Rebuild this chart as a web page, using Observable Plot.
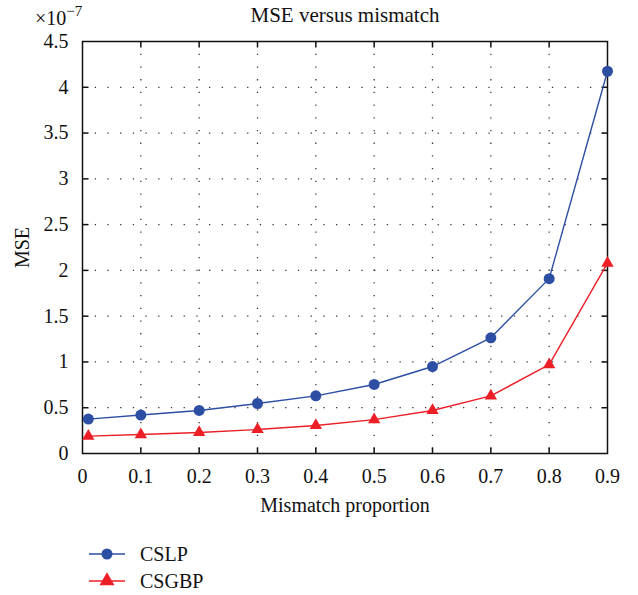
<!DOCTYPE html>
<html><head><meta charset="utf-8">
<script src="https://cdn.jsdelivr.net/npm/d3@7"></script>
<script src="https://cdn.jsdelivr.net/npm/@observablehq/plot@0.6"></script>
<style>
body{margin:0;background:#fff;font-family:"Liberation Serif","DejaVu Serif",serif;color:#111}
#wrap{position:relative;width:638px;height:595px}
.t{position:absolute;white-space:nowrap;font-size:20px;line-height:1}
</style></head><body>
<div id="wrap"></div>
<script>
const mismatch = [0.01, 0.1, 0.2, 0.3, 0.4, 0.5, 0.6, 0.7, 0.8, 0.9];
const cslp = [0.376, 0.42, 0.47, 0.546, 0.63, 0.754, 0.95, 1.264, 1.91, 4.175];
const csgbp = [0.19, 0.207, 0.23, 0.262, 0.306, 0.37, 0.47, 0.63, 0.97, 2.08];
const xTicks = [0, 0.1, 0.2, 0.3, 0.4, 0.5, 0.6, 0.7, 0.8, 0.9];
const yTicks = [0, 0.5, 1, 1.5, 2, 2.5, 3, 3.5, 4, 4.5];
const seriesNames = ["CSLP", "CSGBP"];
const colors = ["#2c4ea3", "#ec1f27"];

const data = [];
mismatch.forEach((m, i) => {
  data.push({x: m, y: cslp[i], s: "CSLP"});
  data.push({x: m, y: csgbp[i], s: "CSGBP"});
});
const A = data.filter(d => d.s === "CSLP");
const B = data.filter(d => d.s === "CSGBP");

const tickSym = (dx, dy) => ({draw(ctx) { ctx.moveTo(0, 0); ctx.lineTo(dx, dy); }});
const inner = xTicks.slice(1, -1);
const innerY = yTicks.slice(1, -1);

const chart = Plot.plot({
  width: 638, height: 525,
  marginLeft: 82, marginRight: 31, marginTop: 41, marginBottom: 72,
  style: {fontFamily: "Liberation Serif, DejaVu Serif, serif", fontSize: "20px", color: "#111", background: "#fff"},
  x: {domain: [0, 0.9]},
  y: {domain: [0, 4.5]},
  marks: [
    Plot.gridX(inner, {stroke: "#222", strokeOpacity: 0.9, strokeDasharray: "1.3,11.4", strokeWidth: 1.3}),
    Plot.gridY(innerY, {stroke: "#222", strokeOpacity: 0.9, strokeDasharray: "1.3,11.4", strokeWidth: 1.3}),
    Plot.frame({stroke: "#111", strokeWidth: 1.5}),
    Plot.dot(inner, {x: d => d, y: () => 0, symbol: tickSym(0, -6), stroke: "#111", strokeWidth: 1.5}),
    Plot.dot(inner, {x: d => d, y: () => 4.5, symbol: tickSym(0, 6), stroke: "#111", strokeWidth: 1.5}),
    Plot.dot(innerY, {y: d => d, x: () => 0, symbol: tickSym(6, 0), stroke: "#111", strokeWidth: 1.5}),
    Plot.dot(innerY, {y: d => d, x: () => 0.9, symbol: tickSym(-6, 0), stroke: "#111", strokeWidth: 1.5}),
    Plot.axisX({ticks: xTicks, tickSize: 0, tickPadding: 15, tickFormat: d => String(d), label: "Mismatch proportion", labelAnchor: "center", labelOffset: 58, labelArrow: "none", fontSize: 20}),
    Plot.axisY({ticks: yTicks, tickSize: 0, tickPadding: 14, tickFormat: d => String(d), label: "MSE", labelAnchor: "center", labelOffset: 68, labelArrow: "none", fontSize: 20}),
    Plot.line(A, {x: "x", y: "y", stroke: colors[0], strokeWidth: 1.4}),
    Plot.line(B, {x: "x", y: "y", stroke: colors[1], strokeWidth: 1.4}),
    Plot.dot(A, {x: "x", y: "y", fill: colors[0], r: 5.5, symbol: "circle"}),
    Plot.dot(B, {x: "x", y: "y", fill: colors[1], r: 4.6, symbol: "triangle"})
  ]
});
const wrap = document.getElementById("wrap");
chart.style.position = "absolute"; chart.style.left = "0"; chart.style.top = "0";
wrap.appendChild(chart);

function addText(html, left, top, extra) {
  const d = document.createElement("div");
  d.className = "t"; d.innerHTML = html;
  d.style.left = left + "px"; d.style.top = top + "px";
  if (extra) Object.assign(d.style, extra);
  wrap.appendChild(d);
  return d;
}
addText("MSE versus mismatch", 345, 5, {transform: "translateX(-50%)", fontSize: "21px"});
addText("×10<span style='font-size:15px;position:relative;top:-9px'>−7</span>", 35, 8);

// legend
const leg = document.createElement("div");
leg.style.position = "absolute"; leg.style.left = "0"; leg.style.top = "538px";
wrap.appendChild(leg);
const ls = d3.select(leg).append("svg").attr("width", 638).attr("height", 57);
seriesNames.forEach((n, i) => {
  const y = 16 + i * 27;
  ls.append("line").attr("x1", 89).attr("x2", 125).attr("y1", y).attr("y2", y).attr("stroke", colors[i]).attr("stroke-width", 1.4);
  if (i === 0) ls.append("circle").attr("cx", 107).attr("cy", y).attr("r", 5.5).attr("fill", colors[i]);
  else ls.append("path").attr("d", d3.symbol(d3.symbolTriangle, 4.6 * 4.6 * 4.6)()).attr("transform", `translate(107,${y})`).attr("fill", colors[i]);
  ls.append("text").attr("x", 140).attr("y", y + 7).attr("font-size", 20).attr("font-family", "Liberation Serif, DejaVu Serif, serif").attr("fill", "#111").text(n);
});
</script>
</body></html>
